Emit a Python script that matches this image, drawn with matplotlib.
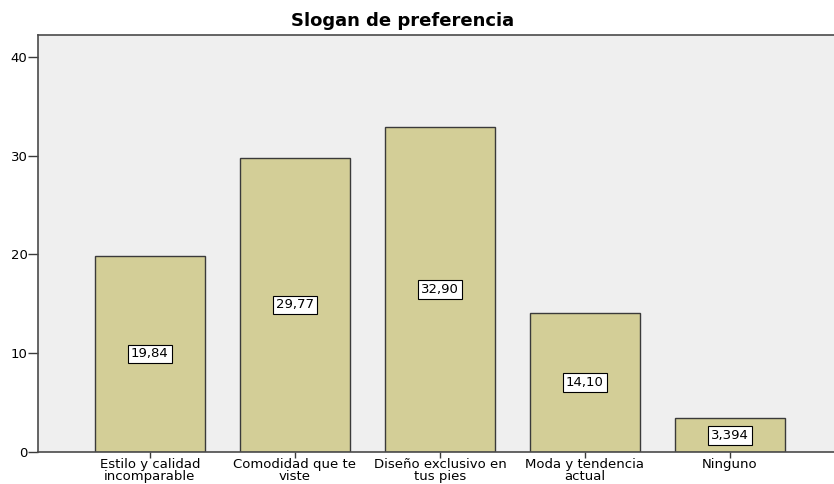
import matplotlib
matplotlib.use("Agg")
import matplotlib.pyplot as plt

categories = ["Estilo y calidad\nincomparable", "Comodidad que te\nviste", "Diseño exclusivo en\ntus pies",
              "Moda y tendencia\nactual", "Ninguno"]
values = [19.84, 29.77, 32.90, 14.10, 3.394]
value_labels = ["19,84", "29,77", "32,90", "14,10", "3,394"]
yticks = [0, 10, 20, 30, 40]

plt.rcParams['font.family'] = ['DejaVu Sans']

fig = plt.figure(figsize=(8.34, 4.84), dpi=100)
ax = fig.add_axes([38/834, 32/484, 796/834, 417/484])
ax.set_facecolor('#EFEFEF')
x = list(range(len(categories)))
ax.bar(x, values, width=0.755, color='#D3CE97', edgecolor='#3a3a3a', linewidth=1.0, zorder=2)
for xi, v, lab in zip(x, values, value_labels):
    ax.text(xi, v / 2, lab, ha='center', va='center', fontsize=9.5, color='black', zorder=3,
            bbox=dict(boxstyle='square,pad=0.22', facecolor='white', edgecolor='black', linewidth=0.8))
ax.set_xlim(-0.772, 4.718)
ax.set_ylim(0, 42.2)
ax.set_yticks(yticks)
ax.set_xticks(x)
ax.set_xticklabels(categories, fontsize=9.5, linespacing=0.85)
ax.tick_params(axis='y', labelsize=9.5, length=7, width=1, color='#3a3a3a', pad=0.5)
ax.tick_params(axis='x', length=4.5, width=1, color='#3a3a3a', pad=0)
for s in ['left', 'bottom', 'top']:
    ax.spines[s].set_color('#4a4a4a')
    ax.spines[s].set_linewidth(1.2)
ax.spines['right'].set_visible(False)
fig.text(403/834, 1 - 21/484, "Slogan de preferencia", ha='center', va='center', fontsize=13, fontweight='bold')
fig.savefig('out.png', dpi=100)
